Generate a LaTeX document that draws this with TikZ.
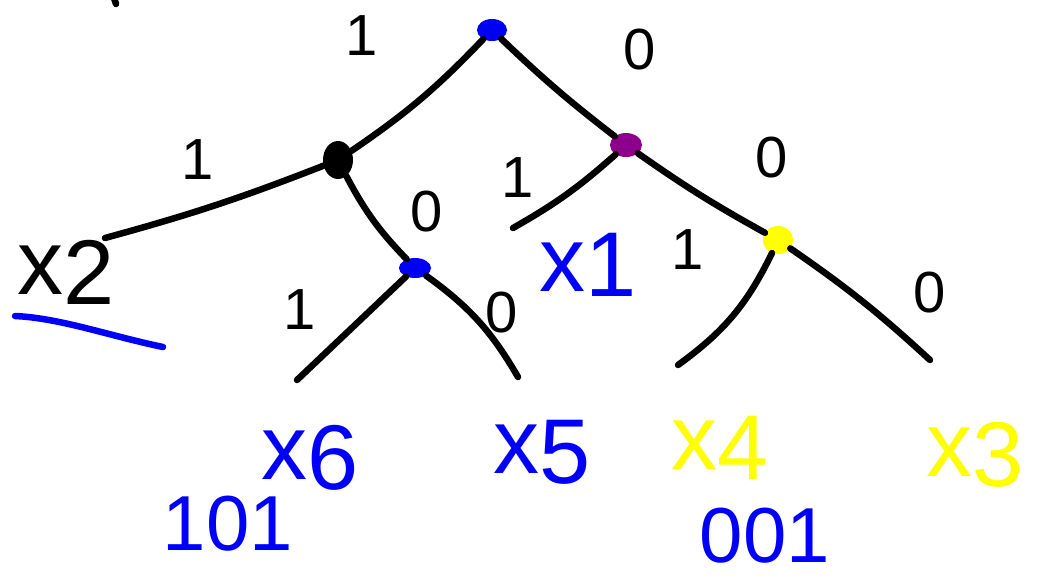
\documentclass[tikz,border=0pt]{standalone}
\usepackage{fontspec}
\setmainfont{Liberation Sans}
\usetikzlibrary{shapes.geometric}
\definecolor{hblue}{RGB}{0,0,250}
\definecolor{hyellow}{RGB}{255,255,0}
\definecolor{hpurple}{RGB}{140,0,140}
\begin{document}
\begin{tikzpicture}[x=1pt,y=-1pt,
  edge/.style={line width=6.5pt,line cap=round,line join=round},
  dot/.style={ellipse,inner sep=0pt},
  bit/.style={font=\fontsize{58}{58}\selectfont,inner sep=0pt},
  leaf/.style={font=\fontsize{92}{92}\selectfont,inner sep=0pt},
  code/.style={font=\fontsize{78}{78}\selectfont,inner sep=0pt,text=hblue}]
\useasboundingbox (0,0) rectangle (1055,582);
% internal nodes
\node[dot,fill=hblue,minimum width=30pt,minimum height=22pt] (r) at (492,30) {};
\node[dot,fill=black,minimum width=30pt,minimum height=38pt] (a) at (338,160) {};
\node[dot,fill=hpurple,minimum width=32pt,minimum height=24pt] (b) at (626,145) {};
\node[dot,fill=hblue,minimum width=32pt,minimum height=20pt] (c) at (415,268) {};
\node[dot,fill=hyellow,minimum width=30pt,minimum height=28pt] (d) at (778,240) {};
% free ends of leaf branches
\coordinate (e2) at (105,238);
\coordinate (e6) at (297,380);
\coordinate (e5) at (518,377);
\coordinate (e1) at (513,228);
\coordinate (e4) at (678,365);
\coordinate (e3) at (930,360);
% branches
\draw[edge] (r) to[bend left=6] (a);
\draw[edge] (r) to[bend right=3] (b);
\draw[edge] (a) to[bend left=3] (e2);
\draw[edge] (a) to[bend right=8] (c);
\draw[edge] (b) to[bend left=6] (e1);
\draw[edge] (b) to[bend right=3] (d);
\draw[edge] (c) -- (e6);
\draw[edge] (c) to[bend left=12] (e5);
\draw[edge] (d) to[bend left=14] (e4);
\draw[edge] (d) to[bend left=4] (e3);
% branch labels
\node[bit] (l1) at (362,36) {1};
\node[bit] (l2) at (640,50) {0};
\node[bit] (l3) at (198,160) {1};
\node[bit] (l4) at (427,212) {0};
\node[bit] (l5) at (518,178) {1};
\node[bit] (l6) at (772,158) {0};
\node[bit] (l7) at (300,310) {1};
\node[bit] (l8) at (502,313) {0};
\node[bit] (l9) at (688,250) {1};
\node[bit] (l10) at (930,293) {0};
% leaves
\node[leaf] (x2) at (66,272) {x\raisebox{-0.2ex}{2}};
\node[leaf,text=hblue] (x6) at (310,458) {x\raisebox{-0.2ex}{6}};
\node[leaf,text=hblue] (x5) at (542,452) {x\raisebox{-0.2ex}{5}};
\node[leaf,text=hblue] (x1) at (588,265) {x\raisebox{-0.1ex}{1}};
\node[leaf,text=hyellow] (x4) at (720,448) {x\raisebox{-0.2ex}{4}};
\node[leaf,text=hyellow] (x3) at (975,455) {x\raisebox{-0.2ex}{3}};
% codes
\node[code] (c6) at (228,524) {101};
\node[code] (c4) at (765,536) {001};
% underline of x2
\coordinate (u1) at (15,316);
\coordinate (u2) at (163,347);
\draw[edge,hblue] (u1) .. controls (60,318) and (110,336) .. (u2);
% stray mark
\coordinate (s1) at (114,-2);
\coordinate (s2) at (116,4);
\draw[edge] (s1) -- (s2);
\end{tikzpicture}
\end{document}
